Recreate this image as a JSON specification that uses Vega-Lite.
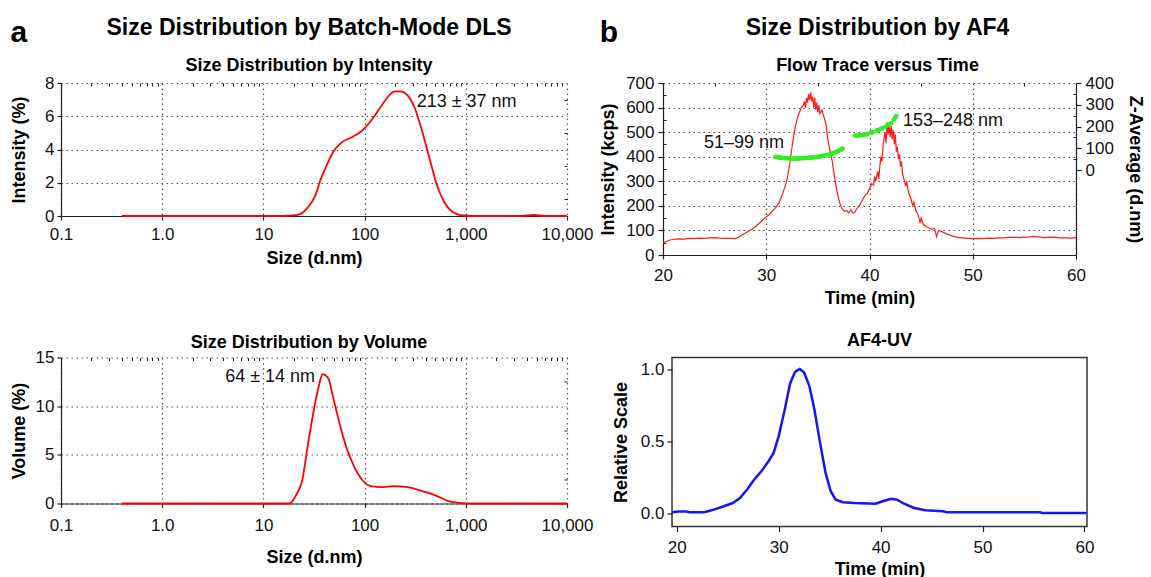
{
 "$schema": "https://vega.github.io/schema/vega-lite/v6.json",
 "background": "white",
 "padding": {"left": 10, "top": 16, "right": 0, "bottom": 0},
 "config": {
  "font": "Liberation Sans",
  "view": {"stroke": null},
  "axis": {"labelFont": "Liberation Sans", "labelFontSize": 17, "labelColor": "#111", "titleFont": "Liberation Sans", "titleFontSize": 18, "titleFontWeight": "bold", "titleColor": "#000", "domainColor": "#222", "domainWidth": 1.2, "tickColor": "#222", "tickSize": 4, "tickWidth": 1.2, "gridColor": "#555", "gridDash": [1.5, 3.5], "gridWidth": 1.2, "labelFlush": false, "labelOverlap": false},
  "title": {"font": "Liberation Sans", "fontWeight": "bold", "color": "#000", "subtitleFont": "Liberation Sans", "subtitleFontWeight": "bold", "subtitleColor": "#000", "anchor": "middle"},
  "text": {"font": "Liberation Sans"}
 },
 "datasets": {
  "intensity": [{"d":0.4,"v":0},{"d":1,"v":0},{"d":5,"v":0},{"d":15,"v":0},{"d":21.3,"v":0.05},{"d":27.4,"v":0.5},{"d":32.4,"v":1.2},{"d":36.8,"v":2.2},{"d":41.8,"v":3.0},{"d":49.4,"v":3.9},{"d":58.6,"v":4.4},{"d":75.4,"v":4.75},{"d":92.9,"v":5.1},{"d":114.6,"v":5.7},{"d":147.5,"v":6.65},{"d":182,"v":7.36},{"d":198,"v":7.5},{"d":225,"v":7.5},{"d":266,"v":7.25},{"d":315,"v":6.45},{"d":372,"v":5.05},{"d":441,"v":3.4},{"d":522,"v":1.8},{"d":618,"v":0.8},{"d":762,"v":0.2},{"d":942,"v":0.03},{"d":1200,"v":0},{"d":3500,"v":0},{"d":4660,"v":0.06},{"d":6000,"v":0},{"d":10000,"v":0}],
  "volume": [{"d":0.4,"v":0},{"d":5,"v":0},{"d":18,"v":0},{"d":21.3,"v":0.96},{"d":24.2,"v":2.4},{"d":27.4,"v":5.9},{"d":31.1,"v":9.3},{"d":35.3,"v":12.1},{"d":38.4,"v":13.3},{"d":43.6,"v":12.9},{"d":49.4,"v":10.7},{"d":58.6,"v":7.6},{"d":66.4,"v":5.7},{"d":78.5,"v":3.85},{"d":92.9,"v":2.54},{"d":114.6,"v":1.79},{"d":147.5,"v":1.68},{"d":190,"v":1.79},{"d":266,"v":1.68},{"d":372,"v":1.27},{"d":522,"v":0.76},{"d":672,"v":0.24},{"d":865,"v":0.07},{"d":1130,"v":0},{"d":10000,"v":0}],
  "flow": [{"t":20,"v":50},{"t":20.3,"v":55},{"t":20.6,"v":60},{"t":21,"v":64},{"t":21.5,"v":66},{"t":22,"v":65},{"t":22.5,"v":68},{"t":23,"v":67},{"t":23.5,"v":69},{"t":24,"v":68},{"t":24.5,"v":70},{"t":25,"v":71},{"t":25.5,"v":69},{"t":26,"v":68},{"t":26.5,"v":68},{"t":27,"v":67},{"t":27.3,"v":72},{"t":27.7,"v":82},{"t":28.2,"v":95},{"t":28.8,"v":110},{"t":29.3,"v":128},{"t":29.8,"v":148},{"t":30.3,"v":165},{"t":30.8,"v":188},{"t":31.2,"v":210},{"t":31.5,"v":240},{"t":31.8,"v":275},{"t":32.0,"v":306},{"t":32.2,"v":350},{"t":32.4,"v":410},{"t":32.6,"v":470},{"t":32.8,"v":520},{"t":33.0,"v":555},{"t":33.2,"v":580},{"t":33.4,"v":600},{"t":33.6,"v":610},{"t":33.7,"v":625},{"t":33.8,"v":600},{"t":33.9,"v":640},{"t":34.0,"v":620},{"t":34.1,"v":655},{"t":34.2,"v":630},{"t":34.3,"v":662},{"t":34.4,"v":625},{"t":34.5,"v":645},{"t":34.6,"v":600},{"t":34.7,"v":640},{"t":34.8,"v":590},{"t":34.9,"v":620},{"t":35.0,"v":580},{"t":35.1,"v":610},{"t":35.2,"v":575},{"t":35.4,"v":590},{"t":35.6,"v":560},{"t":35.8,"v":530},{"t":35.9,"v":490},{"t":36.0,"v":460},{"t":36.2,"v":420},{"t":36.4,"v":380},{"t":36.6,"v":320},{"t":36.8,"v":270},{"t":37.0,"v":230},{"t":37.2,"v":200},{"t":37.4,"v":185},{"t":37.6,"v":178},{"t":37.8,"v":180},{"t":38.0,"v":172},{"t":38.2,"v":185},{"t":38.4,"v":170},{"t":38.6,"v":176},{"t":38.8,"v":190},{"t":39.0,"v":200},{"t":39.2,"v":215},{"t":39.4,"v":230},{"t":39.6,"v":245},{"t":39.8,"v":250},{"t":40.0,"v":270},{"t":40.2,"v":290},{"t":40.4,"v":285},{"t":40.5,"v":320},{"t":40.6,"v":300},{"t":40.8,"v":340},{"t":40.9,"v":310},{"t":41.0,"v":360},{"t":41.1,"v":400},{"t":41.2,"v":380},{"t":41.3,"v":440},{"t":41.4,"v":470},{"t":41.5,"v":500},{"t":41.6,"v":455},{"t":41.7,"v":540},{"t":41.8,"v":490},{"t":41.9,"v":530},{"t":42.0,"v":480},{"t":42.1,"v":525},{"t":42.2,"v":470},{"t":42.3,"v":510},{"t":42.4,"v":450},{"t":42.5,"v":490},{"t":42.6,"v":420},{"t":42.7,"v":440},{"t":42.8,"v":390},{"t":42.9,"v":410},{"t":43.0,"v":360},{"t":43.1,"v":380},{"t":43.2,"v":330},{"t":43.4,"v":300},{"t":43.5,"v":280},{"t":43.6,"v":300},{"t":43.8,"v":250},{"t":44.0,"v":230},{"t":44.2,"v":200},{"t":44.3,"v":215},{"t":44.5,"v":180},{"t":44.7,"v":165},{"t":44.9,"v":130},{"t":45.0,"v":150},{"t":45.2,"v":125},{"t":45.5,"v":115},{"t":45.8,"v":110},{"t":46.0,"v":105},{"t":46.3,"v":108},{"t":46.5,"v":75},{"t":46.7,"v":100},{"t":47.0,"v":95},{"t":47.5,"v":85},{"t":48.0,"v":78},{"t":48.5,"v":72},{"t":49.0,"v":70},{"t":49.5,"v":68},{"t":50.0,"v":66},{"t":50.5,"v":68},{"t":51.0,"v":67},{"t":51.5,"v":69},{"t":52.0,"v":68},{"t":52.5,"v":70},{"t":53.0,"v":70},{"t":53.5,"v":72},{"t":54.0,"v":72},{"t":54.5,"v":71},{"t":55.0,"v":73},{"t":55.5,"v":74},{"t":56.0,"v":76},{"t":56.5,"v":73},{"t":57.0,"v":71},{"t":57.5,"v":73},{"t":58.0,"v":72},{"t":58.5,"v":70},{"t":59.0,"v":70},{"t":59.5,"v":69},{"t":60.0,"v":71}],
  "zavg": [{"t":30.9,"z":60},{"t":31.05,"z":59},{"t":31.2,"z":58},{"t":31.35,"z":57},{"t":31.5,"z":56},{"t":31.65,"z":55.5},{"t":31.8,"z":55},{"t":31.95,"z":54.5},{"t":32.1,"z":54},{"t":32.25,"z":53.5},{"t":32.4,"z":53},{"t":32.55,"z":53},{"t":32.7,"z":53},{"t":32.85,"z":53},{"t":33.0,"z":53},{"t":33.15,"z":53.5},{"t":33.3,"z":54},{"t":33.45,"z":54.5},{"t":33.6,"z":55},{"t":33.75,"z":55.5},{"t":33.9,"z":56},{"t":34.05,"z":56.5},{"t":34.2,"z":57},{"t":34.35,"z":57.5},{"t":34.5,"z":58},{"t":34.65,"z":59},{"t":34.8,"z":60},{"t":34.95,"z":61},{"t":35.1,"z":62},{"t":35.25,"z":63},{"t":35.4,"z":64},{"t":35.55,"z":65.5},{"t":35.7,"z":67},{"t":35.85,"z":68.5},{"t":36.0,"z":70},{"t":36.15,"z":72},{"t":36.3,"z":74},{"t":36.45,"z":77},{"t":36.6,"z":80},{"t":36.75,"z":83},{"t":36.9,"z":86},{"t":37.05,"z":89},{"t":37.2,"z":93},{"t":37.3,"z":96},{"t":37.4,"z":99},{"t":38.6,"z":158},{"t":38.8,"z":158},{"t":39.0,"z":160},{"t":39.2,"z":161},{"t":39.4,"z":162},{"t":39.6,"z":163},{"t":39.8,"z":165},{"t":40.1,"z":172},{"t":40.3,"z":174},{"t":40.7,"z":182},{"t":40.9,"z":185},{"t":41.1,"z":190},{"t":41.3,"z":193},{"t":41.5,"z":198},{"t":41.7,"z":205},{"t":41.9,"z":210},{"t":42.1,"z":215},{"t":42.35,"z":232},{"t":42.5,"z":242},{"t":42.6,"z":248}],
  "uv": [{"t":19.55,"v":0.005},{"t":20.2,"v":0.01},{"t":20.9,"v":0.01},{"t":21.3,"v":0.005},{"t":22.7,"v":0.005},{"t":23.4,"v":0.019},{"t":24.4,"v":0.042},{"t":25.5,"v":0.07},{"t":26.2,"v":0.105},{"t":26.9,"v":0.164},{"t":27.6,"v":0.234},{"t":28.3,"v":0.292},{"t":29.0,"v":0.362},{"t":29.5,"v":0.42},{"t":30.0,"v":0.537},{"t":30.6,"v":0.724},{"t":31.1,"v":0.9},{"t":31.6,"v":0.986},{"t":32.06,"v":1.005},{"t":32.5,"v":0.981},{"t":33.0,"v":0.888},{"t":33.5,"v":0.724},{"t":34.06,"v":0.49},{"t":34.6,"v":0.28},{"t":35.1,"v":0.152},{"t":35.6,"v":0.093},{"t":36.3,"v":0.075},{"t":37.4,"v":0.07},{"t":39.5,"v":0.065},{"t":40.2,"v":0.082},{"t":41.05,"v":0.1},{"t":41.6,"v":0.093},{"t":42.3,"v":0.065},{"t":43.3,"v":0.035},{"t":44.4,"v":0.019},{"t":46.1,"v":0.012},{"t":46.5,"v":0.005},{"t":55.6,"v":0.005},{"t":55.9,"v":0},{"t":60.2,"v":0}],
  "flowLabels": [{"t":27.84,"v":456,"label":"51–99 nm"},{"t":48.09,"v":546,"label":"153–248 nm"}]
 },
 "vconcat": [
  {"hconcat": [
   {"title": {"text": "a", "anchor": "start", "fontSize": 30, "offset": -31},
    "vconcat": [
   {
    "width": 506, "height": 133,
    "title": {"text": "Size Distribution by Batch-Mode DLS", "fontSize": 23, "subtitle": "Size Distribution by Intensity", "subtitleFontSize": 18, "subtitlePadding": 17, "offset": -0.5, "dx": -5},
    "layer": [
     {"encoding": {
       "x": {"field": "d", "type": "quantitative", "scale": {"type": "log", "domain": [0.1, 10000], "nice": false}, "axis": {"title": "Size (d.nm)", "values": [0.1, 1, 10, 100, 1000, 10000], "labelExpr": "datum.value == 1 ? '1.0' : format(datum.value, ',')", "grid": true, "labelPadding": 6, "titlePadding": 7}},
       "y": {"field": "v", "type": "quantitative", "scale": {"domain": [0, 8], "nice": false}, "axis": {"title": "Intensity (%)", "values": [0, 2, 4, 6, 8], "grid": true, "titlePadding": 16, "labelPadding": 3}}
      },
      "layer": [
       {"data": {"name": "intensity"}, "mark": {"type": "line", "color": "#ff0000", "strokeWidth": 1.8, "interpolate": "monotone"}},
       {"data": {"values": [{"d": 327, "v": 6.87, "label": "213 ± 37 nm"}]}, "mark": {"type": "text", "align": "left", "baseline": "middle", "fontSize": 18, "color": "#111"},
        "encoding": {"text": {"field": "label"}}}
      ]},
     {"data": {"name": "intensity"}, "mark": {"type": "line", "opacity": 0},
      "encoding": {
       "x": {"field": "d", "type": "quantitative", "scale": {"type": "log", "domain": [0.1, 10000], "nice": false}, "axis": {"title": null, "values": [0.2,0.3,0.4,0.5,0.6,0.7,0.8,0.9,2,3,4,5,6,7,8,9,20,30,40,50,60,70,80,90,200,300,400,500,600,700,800,900,2000,3000,4000,5000,6000,7000,8000,9000], "labels": false, "domain": false, "grid": false, "tickSize": 3, "tickWidth": 1, "offset": -3}},
       "y": {"field": "v", "type": "quantitative", "scale": {"domain": [0, 8], "nice": false}, "axis": {"title": null, "values": [1, 3, 5, 7], "labels": false, "domain": false, "grid": false, "tickSize": 3, "tickWidth": 1, "offset": -3}}
      }}
    ],
    "resolve": {"axis": {"x": "independent", "y": "independent"}}
   }]},
   {"title": {"text": "b", "anchor": "start", "fontSize": 30, "offset": -31},
    "vconcat": [
   {
    "width": 413, "height": 172,
    "title": {"text": "Size Distribution by AF4", "fontSize": 23, "subtitle": "Flow Trace versus Time", "subtitleFontSize": 18, "subtitlePadding": 17, "offset": -0.5, "dx": 8},
    "layer": [
     {"encoding": {
        "x": {"field": "t", "type": "quantitative", "scale": {"domain": [20, 60], "nice": false}, "axis": {"title": "Time (min)", "values": [20, 30, 40, 50, 60], "grid": true, "labelPadding": 8.5, "titlePadding": 6}},
        "y": {"field": "v", "type": "quantitative", "scale": {"domain": [0, 700], "nice": false}, "axis": {"title": "Intensity (kcps)", "values": [0, 100, 200, 300, 400, 500, 600, 700], "grid": true, "tickSize": 5, "labelPadding": 4, "titlePadding": 8}}
      },
      "layer": [
      {"data": {"name": "flow"}, "mark": {"type": "line", "color": "#ff1a1a", "strokeWidth": 1.2}},
      {"data": {"name": "flowLabels"}, "mark": {"type": "text", "align": "center", "baseline": "middle", "fontSize": 18, "color": "#111"},
       "encoding": {"text": {"field": "label"}}}
     ]},
     {"data": {"name": "zavg"}, "mark": {"type": "point", "filled": true, "color": "#33ee22", "size": 22, "opacity": 1},
      "encoding": {
       "x": {"field": "t", "type": "quantitative", "scale": {"domain": [20, 60], "nice": false}, "axis": null},
       "y": {"field": "z", "type": "quantitative", "scale": {"domain": [-390, 400], "nice": false}, "axis": {"orient": "right", "title": "Z-Average (d.nm)", "values": [0, 100, 200, 300, 400], "grid": false, "tickSize": 5, "labelPadding": 4, "titlePadding": 12}}
      }},
     {"data": {"name": "flow"}, "mark": {"type": "line", "opacity": 0},
      "encoding": {
       "x": {"field": "t", "type": "quantitative", "scale": {"domain": [20, 60], "nice": false}, "axis": {"title": null, "values": [25, 35, 45, 55], "labels": false, "domain": false, "grid": false, "tickSize": 3, "tickWidth": 1, "offset": -3}},
       "y": {"field": "v", "type": "quantitative", "scale": {"domain": [0, 700], "nice": false}, "axis": {"title": null, "values": [50, 150, 250, 350, 450, 550, 650], "labels": false, "domain": false, "grid": false, "tickSize": 3, "tickWidth": 1, "offset": -3}}
      }},
     {"data": {"name": "zavg"}, "mark": {"type": "point", "opacity": 0},
      "encoding": {
       "x": {"field": "t", "type": "quantitative", "scale": {"domain": [20, 60], "nice": false}, "axis": null},
       "y": {"field": "z", "type": "quantitative", "scale": {"domain": [-390, 400], "nice": false}, "axis": {"orient": "right", "title": null, "values": [50, 150, 250, 350], "labels": false, "domain": false, "grid": false, "tickSize": 3, "tickWidth": 1, "offset": -3}}
      }}
    ],
    "resolve": {"scale": {"y": "independent"}, "axis": {"x": "independent", "y": "independent"}}
   }]}
  ], "spacing": 6},
  {"hconcat": [
   {
    "width": 506, "height": 146,
    "title": {"text": "Size Distribution by Volume", "fontSize": 18, "offset": -3, "dx": -5},
    "layer": [
     {"encoding": {
       "x": {"field": "d", "type": "quantitative", "scale": {"type": "log", "domain": [0.1, 10000], "nice": false}, "axis": {"title": "Size (d.nm)", "values": [0.1, 1, 10, 100, 1000, 10000], "labelExpr": "datum.value == 1 ? '1.0' : format(datum.value, ',')", "grid": true, "labelPadding": 10, "titlePadding": 14.5}},
       "y": {"field": "v", "type": "quantitative", "scale": {"domain": [0, 15], "nice": false}, "axis": {"title": "Volume (%)", "values": [0, 5, 10, 15], "grid": true, "titlePadding": 7, "labelPadding": 3}}
      },
      "layer": [
       {"data": {"name": "volume"}, "mark": {"type": "line", "color": "#ff0000", "strokeWidth": 1.8, "interpolate": "monotone"}},
       {"data": {"values": [{"d": 32.4, "v": 13.0, "label": "64 ± 14 nm"}]}, "mark": {"type": "text", "align": "right", "baseline": "middle", "fontSize": 18, "color": "#111"},
        "encoding": {"text": {"field": "label"}}}
      ]},
     {"data": {"name": "volume"}, "mark": {"type": "line", "opacity": 0},
      "encoding": {
       "x": {"field": "d", "type": "quantitative", "scale": {"type": "log", "domain": [0.1, 10000], "nice": false}, "axis": {"title": null, "values": [0.2,0.3,0.4,0.5,0.6,0.7,0.8,0.9,2,3,4,5,6,7,8,9,20,30,40,50,60,70,80,90,200,300,400,500,600,700,800,900,2000,3000,4000,5000,6000,7000,8000,9000], "labels": false, "domain": false, "grid": false, "tickSize": 3, "tickWidth": 1, "offset": -3}},
       "y": {"field": "v", "type": "quantitative", "scale": {"domain": [0, 15], "nice": false}, "axis": {"title": null, "values": [2.5, 7.5, 12.5], "labels": false, "domain": false, "grid": false, "tickSize": 3, "tickWidth": 1, "offset": -3}}
      }}
    ],
    "resolve": {"axis": {"x": "independent", "y": "independent"}}
   },
   {
    "width": 415, "height": 169,
    "view": {"stroke": "#333", "strokeWidth": 1.5},
    "title": {"text": "AF4-UV", "fontSize": 18, "offset": 8},
    "data": {"name": "uv"},
    "mark": {"type": "line", "color": "#1414ff", "strokeWidth": 2.5},
    "encoding": {
     "x": {"field": "t", "type": "quantitative", "scale": {"domain": [19.53, 60.25], "nice": false, "zero": false}, "axis": {"title": "Time (min)", "values": [20, 30, 40, 50, 60], "domain": false, "grid": false, "tickSize": 5, "labelPadding": 8, "titlePadding": 4.5}},
     "y": {"field": "v", "type": "quantitative", "scale": {"domain": [-0.094, 1.086], "nice": false, "zero": false}, "axis": {"title": "Relative Scale", "values": [0, 0.5, 1], "format": ".1f", "domain": false, "grid": false, "tickSize": 5, "labelPadding": 3, "titlePadding": 10}}
    }
   }
  ], "spacing": 18}
 ],
 "spacing": 22.5
}
